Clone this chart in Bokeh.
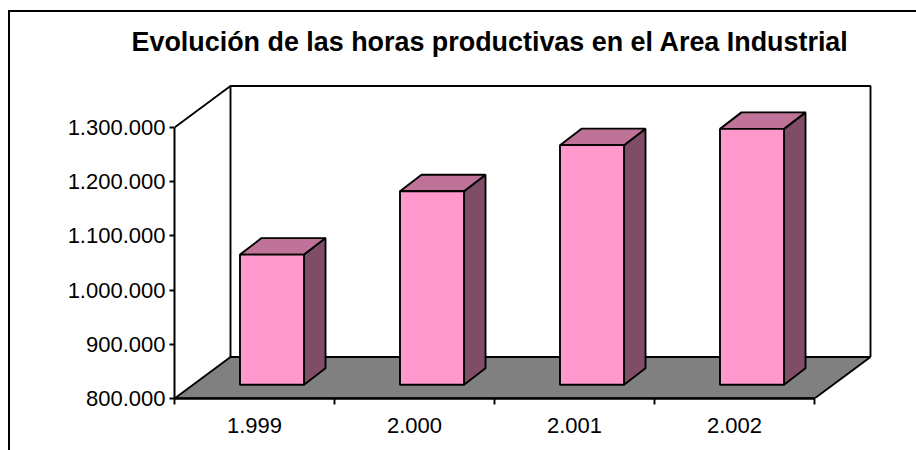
from bokeh.plotting import figure
from bokeh.models import Range1d, LinearAxis, FixedTicker, Title, InlineStyleSheet
from bokeh.embed import file_html
from bokeh.resources import INLINE

years = ["1.999", "2.000", "2.001", "2.002"]
hours = [1040000, 1157000, 1242000, 1272000]
y_ticks = [800000, 900000, 1000000, 1100000, 1200000, 1300000]
y_labels = ["800.000", "900.000", "1.000.000", "1.100.000", "1.200.000", "1.300.000"]
title_text = "Evolución de las horas productivas en el Area Industrial"

PINK, SIDE, TOP, FLOOR = "#FF99CC", "#804D66", "#BF7399", "#808080"
FONT = "Liberation Sans"
LW = 1.9

W, H = 916, 450
LEFT, BOTTOM, TOP_B = 174, 52, 80
px_x = 160.0           # pixels per category
px_y = 54.2 / 100000   # pixels per unit
ymin, ymax = y_ticks[0], y_ticks[-1]
depth_x = 56 / px_x
depth_y = 41.5 / px_y
bar_w = 64 / px_x
bar_dx = 21.5 / px_x
bar_dy = 16.5 / px_y
bar_off = 65.5 / px_x
plane = 13.8 / px_y    # the bars stand this far in from the floor's front edge
bar_base = ymin + plane
n = len(years)

# chart-area border: only its top and left edges fall inside the picture
border = InlineStyleSheet(css=""":host { position: relative; }
:host::before { content: ""; position: absolute; left: 8px; top: 10px; right: 0; bottom: 0;
  border-left: 2px solid black; border-top: 2px solid black; pointer-events: none; z-index: 5; }""")

p = figure(width=W, height=H, output_backend="svg", toolbar_location=None,
           x_range=Range1d(0, (W - LEFT) / px_x),
           y_range=Range1d(ymin, ymin + (H - BOTTOM - TOP_B) / px_y),
           x_axis_type=None, y_axis_type=None,
           min_border_left=LEFT, min_border_right=0, min_border_top=TOP_B, min_border_bottom=BOTTOM,
           outline_line_color=None, background_fill_color="white", border_fill_color="white",
           stylesheets=[border])
p.grid.visible = False

# back walls
p.line([0, depth_x, n + depth_x, n + depth_x], [ymax, ymax + depth_y, ymax + depth_y, ymin + depth_y],
       line_color="black", line_width=LW)
p.line([depth_x, depth_x], [ymax + depth_y, ymin + depth_y], line_color="black", line_width=LW)
# floor
p.patch([0, n, n + depth_x, depth_x], [ymin, ymin, ymin + depth_y, ymin + depth_y],
        fill_color=FLOOR, line_color="black", line_width=LW)

# bars
for i, v in enumerate(hours):
    x0 = i + bar_off
    x1 = x0 + bar_w
    t = v + plane
    p.patch([x1, x1 + bar_dx, x1 + bar_dx, x1],
            [bar_base, bar_base + bar_dy, t + bar_dy, t],
            fill_color=SIDE, line_color="black", line_width=LW)
    p.patch([x0, x1, x1 + bar_dx, x0 + bar_dx],
            [t, t, t + bar_dy, t + bar_dy],
            fill_color=TOP, line_color="black", line_width=LW)
    p.quad(left=[x0], right=[x1], bottom=[bar_base], top=[t],
           fill_color=PINK, line_color="black", line_width=LW)

yaxis = LinearAxis(ticker=FixedTicker(ticks=y_ticks),
                   major_label_overrides=dict(zip(y_ticks, y_labels)),
                   bounds=(ymin, ymax),
                   major_tick_in=0, major_tick_out=5, minor_tick_line_color=None,
                   major_tick_line_width=LW, axis_line_width=2,
                   major_label_standoff=4, major_label_text_font=FONT,
                   major_label_text_font_size="22px", major_label_text_color="black")
p.add_layout(yaxis, "left")

centers = [i + 0.5 for i in range(n)]
xaxis = LinearAxis(ticker=FixedTicker(ticks=centers, minor_ticks=list(range(n + 1))),
                   major_label_overrides=dict(zip(centers, years)),
                   bounds=(0, n),
                   major_tick_line_color=None, major_tick_in=0, major_tick_out=0,
                   minor_tick_in=0, minor_tick_out=6, minor_tick_line_width=LW,
                   axis_line_width=2.5, major_label_standoff=13, major_label_text_font=FONT,
                   major_label_text_font_size="22px", major_label_text_color="black")
p.add_layout(xaxis, "below")

p.title = Title(text=title_text, text_font=FONT, text_font_size="26.9px", text_font_style="bold",
                text_color="black", align="left", offset=-43, standoff=48)

open("out.html", "w").write(file_html(p, INLINE))
